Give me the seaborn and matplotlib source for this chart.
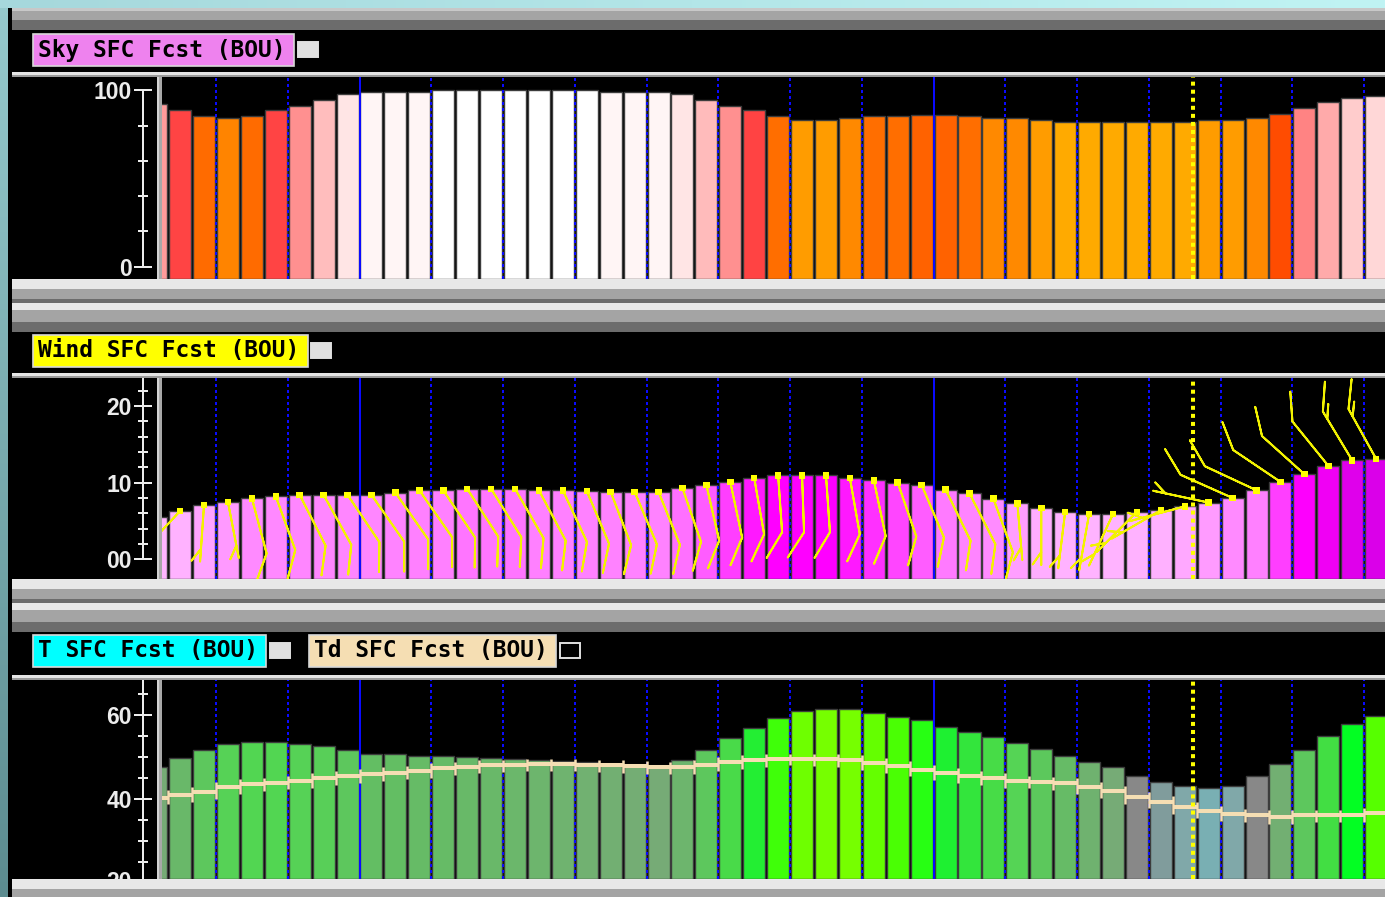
"""
GFE style time series: sky cover, wind and T/Td forecast for BOU.
Three stacked panels, hourly bars coloured by value, wind barbs on top of
the wind bars and a dewpoint step line over the temperature bars.
"""

import numpy as np
import matplotlib
matplotlib.use("Agg")
import matplotlib.pyplot as plt
import seaborn as sns
from matplotlib.colors import LinearSegmentedColormap, Normalize, to_rgb
from matplotlib.patches import Rectangle
from matplotlib.ticker import FixedLocator
from matplotlib.transforms import blended_transform_factory

# =========================
# Data (one value per forecast hour)
# =========================

hours = np.arange(0, 52)

sky_cover = [92, 89, 85.5, 84.4, 85.5, 89, 91, 94.6, 98, 99, 99, 99,
             100, 100, 100, 100, 100, 100, 100,
             99, 99, 99, 98, 94.4, 91, 88.8, 85.4, 83, 83, 84.2,
             85.4, 85.4, 85.8, 85.8, 85.4, 84.2, 84.2, 83, 82, 82, 82, 82,
             82, 82, 83, 83, 84.2, 86.5, 89.9, 93.3, 95.6, 96.7]

wind_speed = [5.5, 6.3, 7.1, 7.45, 7.95, 8.2, 8.4, 8.4, 8.4, 8.4, 8.7, 9.0,
              9.0, 9.2, 9.2, 9.2, 9.0, 9.0, 8.9,
              8.8, 8.8, 8.8, 9.3, 9.7, 10.1, 10.6, 10.95, 10.95, 10.95, 10.6,
              10.3, 10.0, 9.7, 9.1, 8.6, 7.9, 7.3, 6.7, 6.2, 5.9, 5.9, 6.2,
              6.4, 6.9, 7.4, 8.0, 9.0, 10.1, 11.1, 12.2, 12.9, 13.1]

wind_dir = [230, 223, 184, 169, 165, 160, 153, 151, 146, 145, 145, 145,
            146, 147, 148, 150, 152, 155, 157,
            159, 157, 158, 161, 167, 168, 170, 176, 178, 176, 170,
            168, 161, 157, 154, 153, 160, 175, 180, 187, 190, 205, 225,
            240, 255, 282, 294, 295, 304, 312, 321, 329, 331]

temperature = [47.5, 49.8, 51.7, 53.1, 53.6, 53.6, 53.1, 52.7, 51.7, 50.7, 50.7, 50.3,
               50.3, 50.0, 49.8, 49.6, 49.3, 49.0, 48.7,
               48.4, 48.0, 47.6, 49.3, 51.7, 54.5, 56.9, 59.3, 61.0, 61.4, 61.4,
               60.5, 59.5, 58.8, 57.1, 56.0, 54.7, 53.3, 51.8, 50.3, 48.9, 47.5, 45.5,
               44.0, 43.2, 42.6, 43.2, 45.5, 48.4, 51.7, 55.1, 57.9, 59.8]

dewpoint = [40.3, 41.0, 41.7, 42.9, 43.5, 43.9, 44.3, 44.9, 45.5, 46.0, 46.3, 46.7,
            47.3, 47.7, 48.0, 48.2, 48.3, 48.3, 48.2,
            48.0, 47.8, 47.5, 47.6, 48.2, 48.8, 49.3, 49.6, 49.6, 49.5, 49.2,
            48.6, 47.9, 47.0, 46.2, 45.5, 44.9, 44.3, 44.1, 43.7, 42.8, 41.8, 40.4,
            39.4, 38.0, 37.1, 36.4, 36.1, 35.6, 36.1, 36.1, 36.1, 36.6]

# time grid: 3-hourly lines, solid at midnight, dotted yellow = current time
grid_hours = np.arange(2.5, 51, 3)
midnight_hours = [8.5, 32.5]
now_hour = 43.33

panel_titles = ["Sky SFC Fcst (BOU)", "Wind SFC Fcst (BOU)",
                "T SFC Fcst (BOU)", "Td SFC Fcst (BOU)"]

# =========================
# Colour tables (value -> colour)
# =========================

SKY_COLORS = [(80, "#ffb000"), (82, "#ffaa00"), (83, "#ff9c00"), (84.2, "#ff8800"),
              (85.4, "#ff6e00"), (86.5, "#ff4c00"), (87.5, "#ff4242"), (89.3, "#ff4444"),
              (89.6, "#ff8080"), (91, "#ff9090"), (93.3, "#ffaaaa"), (95.6, "#ffcccc"),
              (98, "#ffe4e4"), (99, "#fff4f4"), (100, "#ffffff")]

WIND_COLORS = [(5, "#ffb8ff"), (6.6, "#ffb0ff"), (7.3, "#ff9eff"), (7.8, "#ff8cff"),
               (9.0, "#ff80ff"), (9.7, "#ff5cff"), (10.3, "#ff30ff"), (10.9, "#ff00ff"),
               (12.2, "#f000f4"), (13.2, "#d800e8")]

TEMP_COLORS = [(42.5, "#78b0b4"), (43.2, "#80a8a8"), (44, "#809c9c"), (45.5, "#888888"),
               (47, "#78a878"), (48.5, "#72b072"), (50.3, "#66bb66"), (51.8, "#5cc85c"),
               (53.3, "#55d455"), (55, "#44dd44"), (57, "#22ee33"), (58, "#00ff22"),
               (59.8, "#55ff00"), (61.5, "#77ff00")]

AXIS = "#ececec"
W, H = 1385, 897
X_LEFT = 162
XLIM = (0.2425, 51.37)


def value_cmap(anchors):
    lo, hi = anchors[0][0], anchors[-1][0]
    stops = [((v - lo) / (hi - lo), c) for v, c in anchors]
    return LinearSegmentedColormap.from_list("gfe", stops), Normalize(lo, hi)


def box(fig, x0, y0, x1, y1, color, edge="none", lw=0.0, z=2):
    """Rectangle given in pixel coordinates (origin top-left)."""
    fig.add_artist(Rectangle((x0 / W, 1 - y1 / H), (x1 - x0) / W, (y1 - y0) / H,
                             transform=fig.transFigure, facecolor=color,
                             edgecolor=edge, linewidth=lw, zorder=z))


def label(fig, x0, y0, x1, text, color, square_x, square_fill="#e0e0e0"):
    box(fig, x0, y0, x1, y0 + 32, color, edge="#d8d8d8", lw=1.2, z=3)
    fig.text((x0 + 5) / W, 1 - (y0 + 16) / H, text, ha="left", va="center",
             family="DejaVu Sans Mono", weight="bold", fontsize=16.5,
             color="black", zorder=4)
    box(fig, square_x, y0 + 8, square_x + 20, y0 + 23, square_fill,
        edge="#e0e0e0", lw=1.4, z=3)


def plot_axes(fig, top, bottom):
    ax = fig.add_axes([X_LEFT / W, 1 - bottom / H, (W - X_LEFT) / W, (bottom - top) / H])
    ax.set_facecolor("black")
    return ax


def draw_bars(ax, values, anchors, bottom):
    cmap, norm = value_cmap(anchors)
    sns.barplot(x=hours, y=values, native_scale=True, width=0.92, errorbar=None,
                color="white", edgecolor="#3c3c3c", linewidth=1.0, ax=ax, zorder=1)
    for patch in ax.patches:
        idx = int(round(patch.get_x() + patch.get_width() / 2))
        val = values[idx]
        patch.set_facecolor(cmap(norm(val)))
        patch.set_y(bottom)
        patch.set_height(val - bottom)


def time_lines(ax):
    for h in grid_hours:
        style = "-" if h in midnight_hours else (0, (1.5, 1.5))
        ax.axvline(h, color="#0a0aff", lw=1.44, ls=style, zorder=3)
    ax.axvline(now_hour, color="#ffff00", lw=2.9, ls=(0, (1, 1)), zorder=7)


def style_yaxis(ax, ylim, majors, labels, minors, bounds):
    ax.set_xlim(*XLIM)
    ax.set_ylim(*ylim)
    for side in ["top", "right", "bottom"]:
        ax.spines[side].set_visible(False)
    spine = ax.spines["left"]
    spine.set_visible(True)
    spine.set_position(("outward", 14))
    spine.set_bounds(*bounds)
    spine.set_color(AXIS)
    spine.set_linewidth(1.44)
    ax.yaxis.set_major_locator(FixedLocator(majors))
    ax.set_yticklabels(labels, fontweight="bold")
    ax.yaxis.set_minor_locator(FixedLocator(minors))
    ax.tick_params(axis="y", which="major", left=True, direction="inout", length=12.7,
                   width=1.44, color=AXIS, labelcolor=AXIS, labelsize=16.5, pad=1.5)
    ax.tick_params(axis="y", which="minor", left=True, direction="inout", length=7.6,
                   width=1.44, color=AXIS)
    ax.set_xticks([])
    ax.set_xlabel("")
    ax.set_ylabel("")


def main():
    sns.set_theme(style="dark")
    plt.rcParams["font.family"] = ["Liberation Sans", "DejaVu Sans"]

    fig = plt.figure(figsize=(W / 100, H / 100), dpi=100)
    fig.patch.set_facecolor("black")

    # window border (cyan top strip, teal left strip)
    bg = fig.add_axes([0, 0, 1, 1], zorder=-10)
    img = np.zeros((H, W, 3))
    img[:8] = np.linspace(to_rgb("#a6d8dc"), to_rgb("#c0f4f4"), W)[None, :, :]
    img[8:, :8] = np.linspace(to_rgb("#96cacd"), to_rgb("#5c8c90"), H)[8:, None, :]
    bg.imshow(img, aspect="auto", interpolation="nearest", extent=(0, W, H, 0))
    bg.axis("off")

    light, mid, dark = "#e8e8e8", "#a4a4a4", "#6c6c6c"

    # panel frames: (title bar top, plot top, plot bottom)
    frames = [(8, 77, 279), (303, 378, 579), (603, 680, 879)]
    for i, (t, ptop, pbot) in enumerate(frames):
        if i == 0:
            box(fig, 12, t, W, t + 3, "#c8c8c8")
            box(fig, 12, t + 3, W, t + 12, mid)
            box(fig, 12, t + 12, W, t + 22, dark)
        else:
            box(fig, 12, t, W, t + 7, light)
            box(fig, 12, t + 7, W, t + 19, mid)
            box(fig, 12, t + 19, W, t + 29, dark)
        box(fig, 12, ptop - 5, W, ptop - 2, "#e4e4e4")
        box(fig, 12, ptop - 2, W, ptop, "#9a9a9a")
        box(fig, 157, ptop, 162, pbot + 3, "#a8a8a8")
        box(fig, 157, ptop, 158.5, pbot + 3, "#d4d4d4")
        box(fig, 12, pbot, W, pbot + 10, light)
        box(fig, 12, pbot + 10, W, pbot + 20, mid)
        box(fig, 12, pbot + 20, W, pbot + 24, dark)

    label(fig, 33, 34, 294, panel_titles[0], "#ee82ee", 298)
    label(fig, 33, 335, 308, panel_titles[1], "#ffff00", 311)
    label(fig, 33, 635, 266, panel_titles[2], "#00ffff", 270)
    label(fig, 309, 635, 556, panel_titles[3], "#f5deb3", 560, square_fill="black")

    # =========================
    # Sky cover
    # =========================
    ax_sky = plot_axes(fig, 77, 279)
    sky_lim = (-6.97, 107.5)
    draw_bars(ax_sky, sky_cover, SKY_COLORS, sky_lim[0])
    time_lines(ax_sky)
    style_yaxis(ax_sky, sky_lim, [0, 100], ["0", "100"], [20, 40, 60, 80], (0, 100))

    # =========================
    # Wind
    # =========================
    ax_wind = plot_axes(fig, 378, 579)
    wind_lim = (-2.57, 23.65)
    draw_bars(ax_wind, wind_speed, WIND_COLORS, wind_lim[0])
    time_lines(ax_wind)

    spd = np.array(wind_speed)
    rad = np.deg2rad(wind_dir)
    u = -spd * np.sin(rad)
    v = -spd * np.cos(rad)
    ax_wind.barbs(hours, spd, u, v, length=9.06, pivot="tip", barbcolor="#f2f200",
                  linewidth=1.4, sizes=dict(spacing=0.15, height=0.30, width=0.86),
                  zorder=5)
    sns.scatterplot(x=hours, y=spd, marker="s", s=22, color="#ffff00",
                    edgecolor="none", ax=ax_wind, zorder=6, legend=False)
    style_yaxis(ax_wind, wind_lim, [0, 10, 20], ["00", "10", "20"],
                [2, 4, 6, 8, 12, 14, 16, 18, 22], (0, 23.65))

    # =========================
    # Temperature / dewpoint
    # =========================
    ax_t = plot_axes(fig, 680, 879)
    t_lim = (20.95, 68.33)
    draw_bars(ax_t, temperature, TEMP_COLORS, t_lim[0])
    time_lines(ax_t)

    td = np.array(dewpoint)
    ax_t.hlines(td, hours - 0.5, hours + 0.5, color="#f5deb3", lw=2.9, zorder=4)
    lo = np.minimum(td[:-1], td[1:])
    hi = np.maximum(td[:-1], td[1:])
    ax_t.vlines(hours[1:] - 0.5, lo - 1.6, hi + 1.2, color="#f5deb3", lw=1.8, zorder=4)
    style_yaxis(ax_t, t_lim, [40, 60], ["40", "60"],
                [25, 30, 35, 45, 50, 55, 65], t_lim)

    # the "20" label sits just below the plot and is mostly hidden by the frame
    label_x = blended_transform_factory(ax_t.transAxes, ax_t.transData)
    ax_t.text((131.5 - X_LEFT) / (W - X_LEFT), 20, "20", transform=label_x,
              ha="right", va="center", fontsize=16.5, fontweight="bold",
              color=AXIS, clip_on=False)

    fig.savefig("out.png", dpi=100, facecolor="black")
    plt.close(fig)


if __name__ == "__main__":
    main()
